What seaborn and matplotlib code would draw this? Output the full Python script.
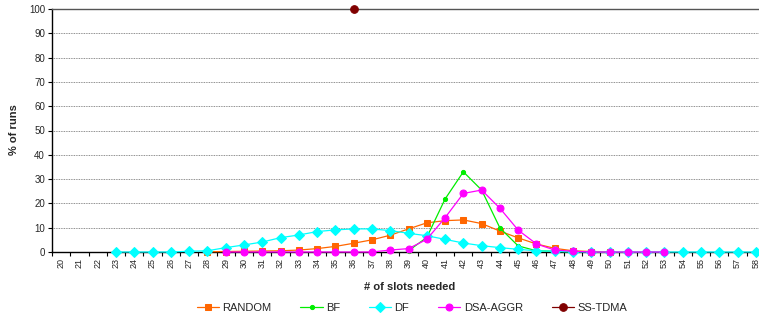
import matplotlib
matplotlib.use("Agg")
import matplotlib.pyplot as plt
import seaborn as sns
import numpy as np
import pandas as pd

slots = list(range(20, 59))

random_x = list(range(28, 51))
random_y = [0.1, 0.2, 0.3, 0.4, 0.5, 0.8, 1.4, 2.3, 3.6, 5.0, 6.9, 9.5, 12.0, 12.9, 13.2, 11.7, 8.6, 5.8, 3.3, 1.5, 0.5, 0.2, 0.1]

bf_x = list(range(39, 49))
bf_y = [0.5, 6.0, 21.8, 33.0, 25.5, 9.9, 2.5, 0.5, 0.3, 0.0]

df_x = list(range(23, 59))
df_y = [0.0, 0.0, 0.0, 0.0, 0.3, 0.5, 1.8, 2.9, 4.1, 5.9, 7.0, 8.4, 9.1, 9.5, 9.5, 8.8, 7.7, 6.7,
        5.2, 3.7, 2.6, 1.8, 1.1, 0.5, 0.3, 0.0, 0.0, 0.0, 0.0, 0.0, 0.0, 0.0, 0.0, 0.0, 0.0, 0.0]

dsa_x = list(range(29, 54))
dsa_y = [0.0, 0.0, 0.0, 0.0, 0.0, 0.0, 0.0, 0.0, 0.0, 0.8, 1.4, 5.2, 14.1, 24.1, 25.5, 18.0, 9.0, 3.3,
         0.8, 0.3, 0.0, 0.0, 0.0, 0.0, 0.0]

ss_x = [36]
ss_y = [100]

yticks = list(range(0, 101, 10))

sns.set_style("white")
plt.rcParams['font.family'] = ['Liberation Sans', 'DejaVu Sans']

fig = plt.figure(figsize=(7.59, 3.19), dpi=100)
ax = fig.add_axes([52/759, 1-252/319, 713/759, 243/319])

series = [
    ("RANDOM", random_x, random_y, "#FF6600", "s", 4.0),
    ("BF", bf_x, bf_y, "#00EE00", "o", 3.0),
    ("DF", df_x, df_y, "#00FFFF", "D", 5.0),
    ("DSA-AGGR", dsa_x, dsa_y, "#FF00FF", "o", 5.0),
    ("SS-TDMA", ss_x, ss_y, "#800000", "o", 5.5),
]
for name, xs, ys, col, mk, ms in series:
    df = pd.DataFrame({"x": xs, "y": ys})
    sns.lineplot(data=df, x="x", y="y", ax=ax, color=col, marker=mk, markersize=ms,
                 markeredgecolor=col, linewidth=0.9, label=name, clip_on=False, zorder=3)

ax.set_xlim(19.5, 58.5)
ax.set_ylim(0, 100)
ax.set_yticks(yticks)
ax.set_yticklabels([str(v) for v in yticks], fontsize=7)
ax.set_xticks(slots)
ax.set_xticklabels([str(v) for v in slots], fontsize=6.5, rotation=90)
ax.set_xticks(np.arange(19.5, 59, 1), minor=True)
ax.tick_params(axis='x', which='major', length=0, pad=4)
ax.tick_params(axis='x', which='minor', length=3, width=0.8, color='black', direction='out', bottom=True)
ax.tick_params(axis='y', which='major', length=3, width=0.8, color='black', direction='out', left=True, pad=2)

ax.grid(axis='y', color='#6a6a6a', linestyle=(0, (1, 1)), linewidth=0.6)
ax.grid(axis='x', visible=False)
for s in ['left', 'bottom', 'top']:
    ax.spines[s].set_color('black')
    ax.spines[s].set_linewidth(1.0)
ax.spines['right'].set_visible(False)
ax.spines['top'].set_color('#555555')

ax.set_xlabel("")
ax.set_ylabel("")
fig.text(14/759, 1-130/319, "% of runs", rotation=90, fontsize=8, fontweight='bold', ha='center', va='center')
fig.text(410/759, 1-287/319, "# of slots needed", fontsize=8, fontweight='bold', ha='center', va='center')

handles, labels = ax.get_legend_handles_labels()
if ax.legend_:
    ax.legend_.remove()
fig.legend(handles, labels, loc='center', bbox_to_anchor=(412/759, 1-308/319), ncol=5, frameon=False,
           fontsize=8, handlelength=2.0, handletextpad=0.3, columnspacing=2.6)

fig.savefig("out.png", dpi=100)
